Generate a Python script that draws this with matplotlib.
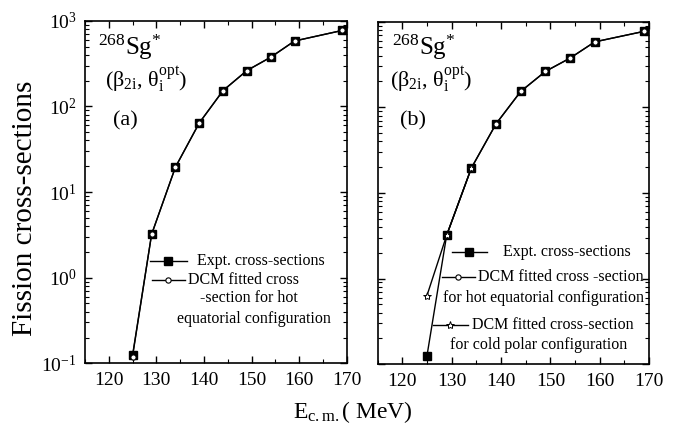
import matplotlib
matplotlib.use("Agg")
import matplotlib.pyplot as plt
from matplotlib.ticker import MultipleLocator, LogLocator, NullFormatter

plt.rcParams['font.family'] = 'Liberation Serif'
plt.rcParams['mathtext.fontset'] = 'custom'
plt.rcParams['mathtext.rm'] = 'Liberation Serif'
plt.rcParams['mathtext.it'] = 'Liberation Serif:italic'
plt.rcParams['mathtext.default'] = 'regular'

# centre-of-mass energies (MeV)
energy = [125, 129, 134, 139, 144, 149, 154, 159, 169]
# experimental fission cross-sections
expt = [0.124, 3.2, 19.5, 64, 153, 262, 375, 580, 770]
# DCM fit, hot equatorial configuration
dcm_hot_a = [0.120, 3.2, 19.5, 64, 153, 262, 375, 580, 770]
energy_hot_b = [129, 134, 139, 144, 149, 154, 159, 169]
dcm_hot_b = [3.2, 19.5, 64, 153, 262, 375, 580, 770]
# DCM fit, cold polar configuration
energy_cold = [125, 129, 134]
dcm_cold = [0.63, 3.2, 19.5]

fig = plt.figure(figsize=(6.79, 4.32), dpi=100)
ax1 = fig.add_axes([0.125, 0.159, 0.386, 0.793])
ax2 = fig.add_axes([0.556, 0.157, 0.400, 0.793])

sq = dict(marker='s', color='black', mfc='black', mec='black', ms=5.8, lw=1)
circ = dict(marker='o', color='black', mfc='white', mec='black', ms=3.8, mew=0.8, lw=1)
star = dict(marker='*', color='black', mfc='white', mec='black', ms=6, mew=0.7, lw=1)

# panel (a)
ax1.plot(energy, expt, **sq)
ax1.plot(energy, dcm_hot_a, **circ)

# panel (b)
ax2.plot(energy, expt, **sq)
ax2.plot(energy_hot_b, dcm_hot_b, **circ)
ax2.plot(energy_cold, dcm_cold, **star)

for ax in (ax1, ax2):
    ax.set_yscale('log')
    ax.set_ylim(0.1, 1000)
    ax.set_xlim(115, 170)
    ax.xaxis.set_major_locator(MultipleLocator(10))
    ax.xaxis.set_minor_locator(MultipleLocator(5))
    ax.yaxis.set_major_locator(LogLocator(base=10))
    ax.yaxis.set_minor_locator(LogLocator(base=10, subs=range(2, 10)))
    ax.yaxis.set_minor_formatter(NullFormatter())
    ax.tick_params(which='both', direction='in', top=True, right=True, labelsize=14, pad=6)
    ax.tick_params(which='major', length=5, width=1)
    ax.tick_params(which='minor', length=3, width=0.8)
    for s in ax.spines.values():
        s.set_linewidth(1.2)

ax2.tick_params(labelleft=False)


def key(ax, x0, x1, y, style):
    # short legend key: line with a marker in the middle
    ax.plot([x0, x1], [y, y], transform=ax.transAxes, clip_on=False,
            color='black', lw=1, marker='none')
    ax.plot([(x0 + x1) / 2], [y], transform=ax.transAxes, clip_on=False,
            ls='none', **{k: v for k, v in style.items() if k not in ('lw', 'color')})


def lines(ax, rows):
    for x, y, s in rows:
        ax.text(x, y, s, transform=ax.transAxes, fontsize=11.5, va='center', ha='left')


# composition labels
ax1.text(0.05, 0.900, r'$^{268}$Sg$^{*}$', transform=ax1.transAxes, fontsize=18, va='baseline')
ax1.text(0.076, 0.806, r'($\beta_{2i}$, $\theta_{i}^{opt}$)', transform=ax1.transAxes, fontsize=16, va='baseline')
ax1.text(0.107, 0.695, '(a)', transform=ax1.transAxes, fontsize=16, va='baseline')

ax2.text(0.052, 0.903, r'$^{268}$Sg$^{*}$', transform=ax2.transAxes, fontsize=18, va='baseline')
ax2.text(0.045, 0.808, r'($\beta_{2i}$, $\theta_{i}^{opt}$)', transform=ax2.transAxes, fontsize=16, va='baseline')
ax2.text(0.082, 0.697, '(b)', transform=ax2.transAxes, fontsize=16, va='baseline')

# legend, panel (a)
key(ax1, 0.248, 0.389, 0.300, sq)
key(ax1, 0.255, 0.382, 0.243, circ)
lines(ax1, [(0.426, 0.300, 'Expt. cross-sections'),
            (0.393, 0.243, 'DCM fitted cross'),
            (0.439, 0.191, '-section for hot'),
            (0.350, 0.129, 'equatorial configuration')])

# legend, panel (b)
key(ax2, 0.274, 0.403, 0.328, sq)
key(ax2, 0.237, 0.359, 0.255, circ)
key(ax2, 0.204, 0.333, 0.114, star)
lines(ax2, [(0.462, 0.328, 'Expt. cross-sections'),
            (0.370, 0.255, 'DCM fitted cross -section'),
            (0.240, 0.193, 'for hot equatorial configuration'),
            (0.349, 0.114, 'DCM fitted cross-section'),
            (0.266, 0.056, 'for cold polar configuration')])

fig.text(0.037, 0.517, 'Fission cross-sections', rotation=90, ha='center', va='center', fontsize=21)
fig.text(0.52, 0.033, r'E$_{c{.}m{.}}$( MeV)', ha='center', va='baseline', fontsize=17)

fig.savefig('out.png', dpi=100)
